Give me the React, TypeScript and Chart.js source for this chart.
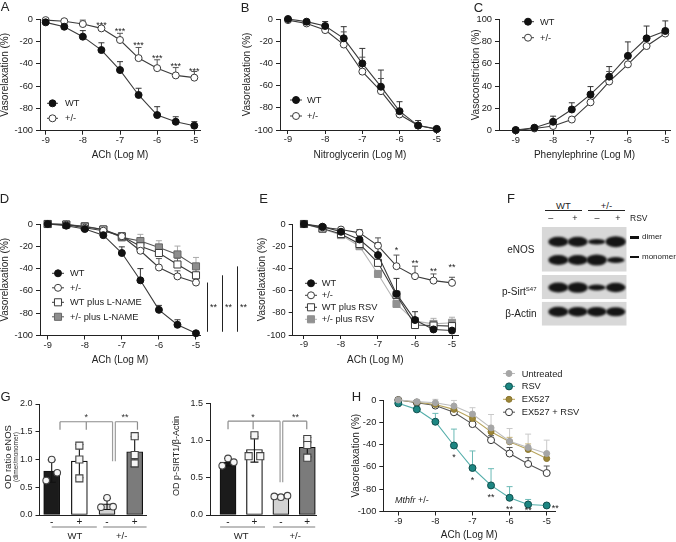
import React, { useEffect, useRef } from 'react';
import { Chart, registerables } from 'chart.js';

Chart.register(...registerables);

const FONT = '"Liberation Sans", Arial, Helvetica, sans-serif';
Chart.defaults.font.family = FONT;
Chart.defaults.color = '#222';

// ---------------- data ----------------
const LOG_DOSE = [-9, -8.5, -8, -7.5, -7, -6.5, -6, -5.5, -5];
const X_TICKS = [-9, -8, -7, -6, -5];
const RELAX_TICKS = [-100, -80, -60, -40, -20, 0];
const CONSTRICT_TICKS = [0, 20, 40, 60, 80, 100];

// A: ACh
const A_WT = [-3, -6.9, -15.8, -27.8, -45.7, -68, -86, -92, -95.5];
const A_WT_ERR = [1, 1.5, 5.4, 6.5, 7.5, 6, 7.5, 4.5, 3.6];
const A_HET = [-1, -2, -4.5, -8.4, -18.8, -35, -44, -50.5, -52.5];
const A_HET_ERR = [0.5, 1, 3.5, 0.5, 6, 9.5, 7.5, 7, 5.5];
const A_STAR_X = [-7.5, -7, -6.5, -6, -5.5, -5];
const A_STAR_Y = [-4, -9.3, -21.8, -33, -40.6, -44.8];
const A_STAR_TEXT = ['***', '***', '***', '***', '***', '***'];

// B: Nitroglycerin
const B_WT = [0, -2.4, -6.3, -17.4, -40, -61, -83, -96, -99];
const B_WT_ERR = [0.5, 1, 4, 10.5, 13.5, 15, 8.5, 4.5, 1];
const B_HET = [-1, -4, -10, -23, -47.4, -65, -86, -96, -99.3];
const B_HET_ERR = [0.5, 1, 2, 11.4, 13, 11.4, 4, 2, 1];

// C: Phenylephrine
const C_WT = [0.6, 2.7, 8, 19, 32.5, 48.4, 67, 82.7, 89.3];
const C_WT_ERR = [0.5, 1, 5, 6, 7, 9, 12.5, 11, 9];
const C_HET = [0.3, 2, 4.2, 10, 25.4, 44, 59.4, 75.8, 87];
const C_HET_ERR = [0.3, 0.5, 1, 2, 4, 9, 6, 5, 4];

// D: ACh +/- L-NAME
const D_WT = [0, -1.5, -4.5, -10, -26, -50.5, -77, -90.4, -98];
const D_WT_ERR = [0.5, 0.5, 1, 2, 5.5, 10.5, 4, 4.5, 1.5];
const D_HET = [0, -0.6, -3.3, -6, -11, -24, -39, -47, -52.5];
const D_HET_ERR = [0.3, 0.5, 1, 4, 3, 5, 8, 5, 3];
const D_WT_LN = [0, -0.5, -2.4, -5, -11, -20, -26, -36.3, -46];
const D_WT_LN_ERR = [0.3, 0.5, 1, 2, 3, 4, 4, 5.5, 6];
const D_HET_LN = [0, -0.5, -2, -5, -12, -15.3, -21, -27.3, -38];
const D_HET_LN_ERR = [0.3, 0.5, 1, 2, 4, 6, 6, 7.5, 8];

// E: ACh +/- RSV
const E_WT = [0, -2.4, -7, -14, -28, -63, -86.5, -95, -96];
const E_WT_ERR = [0.3, 1, 2, 4, 11, 14, 7.5, 3, 2];
const E_HET = [0, -3, -5, -8, -19.5, -38, -47, -51, -53];
const E_HET_ERR = [0.3, 1, 2, 3, 7, 10, 9, 6, 5];
const E_WT_RSV = [0, -4, -9, -18, -35, -64, -91, -91.5, -92];
const E_WT_RSV_ERR = [0.3, 1, 1.5, 2, 3, 4, 3, 2, 2];
const E_HET_RSV = [0, -4.5, -10, -20, -45, -72, -87.5, -90, -89];
const E_HET_RSV_ERR = [0.3, 1, 1, 2, 3, 3, 3, 5, 5];
const E_STAR_X = [-6.5, -6, -5.5, -5];
const E_STAR_Y = [-22, -33.3, -40.8, -37];
const E_STAR_TEXT = ['*', '**', '**', '**'];

// H: Mthfr +/- with RSV / EX527
const H_UNT = [0, -1.5, -2.4, -5.4, -12.6, -25, -37, -42.6, -48];
const H_UNT_ERR = [1, 1.5, 3, 5, 5.7, 12, 11.4, 12, 12];
const H_RSV = [-3, -8.4, -19.5, -40.8, -61, -76.6, -87.7, -93.7, -94.6];
const H_RSV_ERR = [1, 2, 7.5, 14.7, 15.3, 15, 10, 4.5, 1.5];
const H_EX = [0, -2, -4, -8.4, -16.5, -28.5, -37.5, -44.4, -52.5];
const H_EX_ERR = [1, 1.5, 2, 3, 4, 5, 4, 5, 5];
const H_EXRSV = [0, -2.4, -5, -11, -21.6, -36, -48, -57.4, -65.5];
const H_EXRSV_ERR = [1, 1, 2, 2, 3, 4, 5.4, 5.7, 6.3];
const H_STAR_X = [-7.5, -7, -6.5, -6, -5.5, -5];
const H_STAR_Y = [-49.3, -70.2, -85.2, -95.7, -96.9, -94.8];
const H_STAR_TEXT = ['*', '*', '**', '**', '**', '**'];

// G: bar charts
const G_CATS = ['-', '+', '-', '+'];
const G1_Y_TICKS = [0, 0.5, 1, 1.5, 2];
const G1_MEAN = [0.79, 0.97, 0.2, 1.14];
const G1_SD = [0.2, 0.3, 0.1, 0.27];
const G1_PTS = [[1.0, 0.62, 0.76], [1.25, 1.0, 0.66], [0.31, 0.14, 0.15], [1.42, 1.08, 0.93]];
const G2_Y_TICKS = [0, 0.5, 1, 1.5];
const G2_MEAN = [0.71, 0.88, 0.25, 0.91];
const G2_SD = [0.05, 0.17, 0.02, 0.13];
const G2_PTS = [[0.76, 0.66, 0.71], [1.07, 0.79, 0.79], [0.25, 0.24, 0.26], [1.02, 0.94, 0.77]];

// F: western blot band strengths (lanes WT-, WT+, het-, het+)
const BLOT_DIMER = [1.0, 1.0, 0.55, 1.1];
const BLOT_MONOMER = [1.0, 1.0, 1.1, 0.6];
const BLOT_PSIRT = [1.0, 1.05, 0.6, 0.95];
const BLOT_ACTIN = [1.0, 0.95, 0.95, 0.9];

// ---------------- types & styles ----------------
type Rect = { x: number; y: number; w: number; h: number };
type Plot = { l: number; t: number; r: number; b: number };
type Style = { marker: 'circle' | 'rect'; fill: string; stroke: string; line: string; err: string; radius?: number };
type Series = { label: string; data: number[]; err: number[]; style: Style };

const ST_FILLED: Style = { marker: 'circle', fill: '#111', stroke: '#111', line: '#3a3a3a', err: '#333' };
const ST_OPEN: Style = { marker: 'circle', fill: '#fff', stroke: '#3a3a3a', line: '#3a3a3a', err: '#555' };
const ST_OPEN_SQ: Style = { marker: 'rect', fill: '#fff', stroke: '#3a3a3a', line: '#3a3a3a', err: '#666' };
const ST_GRAY_SQ_D: Style = { marker: 'rect', fill: '#8e8e8e', stroke: '#666', line: '#555', err: '#aaa' };
const ST_GRAY_SQ_E: Style = { marker: 'rect', fill: '#919191', stroke: '#919191', line: '#b4b4b4', err: '#b0b0b0' };
const ST_UNT: Style = { marker: 'circle', fill: '#a6a6a6', stroke: '#a6a6a6', line: '#bdbdbd', err: '#c9c9c9', radius: 3 };
const ST_RSV: Style = { marker: 'circle', fill: '#1c8682', stroke: '#0f4f4d', line: '#54aeaa', err: '#6cbab6', radius: 3.5 };
const ST_EX: Style = { marker: 'circle', fill: '#9c8637', stroke: '#8a7630', line: '#b8a45c', err: '#c4b277', radius: 3 };
const ST_EXRSV: Style = { marker: 'circle', fill: '#fff', stroke: '#333', line: '#555', err: '#555', radius: 3.5 };

const TITLE_SIZE = 10;
const TITLE_LH = TITLE_SIZE * 1.2;

function markerRadius(st: Style) {
  return st.radius ?? (st.marker === 'rect' ? 5 : 3.5);
}

function drawMarker(ctx: CanvasRenderingContext2D, st: Style, x: number, y: number) {
  const r = markerRadius(st);
  ctx.beginPath();
  if (st.marker === 'rect') {
    const h = r * Math.SQRT1_2;
    ctx.rect(x - h, y - h, 2 * h, 2 * h);
  } else {
    ctx.arc(x, y, r, 0, Math.PI * 2);
  }
  ctx.fillStyle = st.fill;
  ctx.fill();
  ctx.lineWidth = 1;
  ctx.strokeStyle = st.stroke;
  ctx.stroke();
}

const errPlugin = {
  id: 'errbars',
  beforeDatasetsDraw(chart: any) {
    const ctx = chart.ctx;
    const ys = chart.scales.y;
    chart.data.datasets.forEach((ds: any, di: number) => {
      if (!ds.errs) return;
      const meta = chart.getDatasetMeta(di);
      ctx.save();
      ctx.strokeStyle = ds.errColor;
      ctx.lineWidth = 1;
      meta.data.forEach((el: any, i: number) => {
        const e = ds.errs[i];
        if (!e) return;
        const yt = ys.getPixelForValue(ds.data[i].y + e);
        ctx.beginPath();
        ctx.moveTo(el.x, el.y);
        ctx.lineTo(el.x, yt);
        ctx.moveTo(el.x - 3, yt);
        ctx.lineTo(el.x + 3, yt);
        ctx.stroke();
      });
      ctx.restore();
    });
  },
};

type LineSpec = {
  canvas: Rect;
  plot: Plot;
  xRange: [number, number];
  yRange: [number, number];
  yTicks: number[];
  xTitle: string;
  yTitle: string;
  xTitleY: number;
  yTitleX: number;
  series: Series[];
  legend?: { x: number; y: number; dy: number; len: number; textX: number };
  stars?: { xs: number[]; ys: number[]; texts: string[]; dx?: number[] };
  extra?: (chart: any, ctx: CanvasRenderingContext2D, c: Rect) => void;
};

function lineConfig(s: LineSpec): any {
  const c = s.canvas;
  const p = s.plot;
  const overlay = {
    id: 'overlay',
    afterDraw(chart: any) {
      const ctx: CanvasRenderingContext2D = chart.ctx;
      const xs = chart.scales.x;
      const ys = chart.scales.y;
      ctx.save();
      if (s.legend) {
        const lg = s.legend;
        s.series.forEach((se, i) => {
          const y = lg.y - c.y + i * lg.dy;
          const x = lg.x - c.x;
          ctx.strokeStyle = se.style.line;
          ctx.lineWidth = 1;
          ctx.beginPath();
          ctx.moveTo(x, y);
          ctx.lineTo(x + lg.len, y);
          ctx.stroke();
          drawMarker(ctx, se.style, x + lg.len / 2, y);
          ctx.fillStyle = '#222';
          ctx.font = `9.3px ${FONT}`;
          ctx.textAlign = 'left';
          ctx.textBaseline = 'middle';
          ctx.fillText(se.label, lg.textX - c.x, y + 0.5);
        });
      }
      if (s.stars) {
        const st = s.stars;
        ctx.fillStyle = '#222';
        ctx.font = `9px ${FONT}`;
        ctx.textAlign = 'center';
        ctx.textBaseline = 'alphabetic';
        st.xs.forEach((xv, i) => {
          const dx = st.dx ? st.dx[i] : 0;
          ctx.fillText(st.texts[i], xs.getPixelForValue(xv) + dx, ys.getPixelForValue(st.ys[i]) + 5);
        });
      }
      if (s.extra) s.extra(chart, ctx, c);
      ctx.restore();
    },
  };
  return {
    type: 'line',
    data: {
      datasets: s.series.map((se) => ({
        label: se.label,
        data: LOG_DOSE.map((x, i) => ({ x, y: se.data[i] })),
        borderColor: se.style.line,
        borderWidth: 1.1,
        backgroundColor: se.style.fill,
        pointStyle: se.style.marker,
        pointRadius: markerRadius(se.style),
        pointHoverRadius: markerRadius(se.style),
        pointBackgroundColor: se.style.fill,
        pointBorderColor: se.style.stroke,
        pointBorderWidth: 1,
        tension: 0,
        fill: false,
        clip: false,
        errs: se.err,
        errColor: se.style.err,
      })),
    },
    options: {
      responsive: false,
      animation: false,
      devicePixelRatio: 1,
      events: [],
      layout: { padding: { left: 0, top: p.t - c.y, right: c.x + c.w - p.r, bottom: 0 } },
      plugins: { legend: { display: false }, tooltip: { enabled: false } },
      scales: {
        x: {
          type: 'linear',
          min: s.xRange[0],
          max: s.xRange[1],
          afterBuildTicks: (ax: any) => {
            ax.ticks = X_TICKS.map((v) => ({ value: v }));
          },
          afterFit: (ax: any) => {
            ax.height = c.y + c.h - p.b;
          },
          ticks: { font: { size: 9.3 }, color: '#222', padding: 0, maxRotation: 0, autoSkip: false, callback: (v: any) => String(v) },
          grid: { drawOnChartArea: false, drawTicks: true, tickLength: 4, color: '#222', lineWidth: 1 },
          border: { display: true, color: '#222', width: 1 },
          title: {
            display: true,
            text: s.xTitle,
            color: '#222',
            font: { size: TITLE_SIZE },
            padding: { top: 0, bottom: c.y + c.h - s.xTitleY - TITLE_LH / 2 },
          },
        },
        y: {
          type: 'linear',
          min: s.yRange[0],
          max: s.yRange[1],
          afterBuildTicks: (ax: any) => {
            ax.ticks = s.yTicks.map((v) => ({ value: v }));
          },
          afterFit: (ax: any) => {
            ax.width = p.l - c.x;
          },
          ticks: { font: { size: 9.3 }, color: '#222', padding: 3, callback: (v: any) => String(v) },
          grid: { drawOnChartArea: false, drawTicks: true, tickLength: 4, color: '#222', lineWidth: 1 },
          border: { display: true, color: '#222', width: 1 },
          title: {
            display: true,
            text: s.yTitle,
            color: '#222',
            font: { size: TITLE_SIZE },
            padding: { top: s.yTitleX - c.x - TITLE_LH / 2, bottom: 0 },
          },
        },
      },
    },
    plugins: [errPlugin, overlay],
  };
}

// ---------------- bar charts ----------------
const BAR_FILLS = ['#1b1b1b', '#ffffff', '#d3d3d3', '#7b7b7b'];
const BAR_SHAPES = ['circle', 'rect', 'circle', 'rect'];

type BarSpec = {
  canvas: Rect;
  plot: Plot;
  xRange: [number, number];
  yMax: number;
  yTicks: number[];
  means: number[];
  sd: number[];
  pts: number[][];
  jitter: number[][];
  barW: number;
  bracket: { y: number; segs: number[][]; ticks: number[]; longs: number[]; longBottom: number; stars: [number, string][] };
  groups: { from: number; to: number; at: number; text: string }[];
  yTitles: { x: number; y: number; size: number; text: string }[];
};

function barConfig(g: BarSpec): any {
  const c = g.canvas;
  const p = g.plot;
  const pts: any[] = [];
  const styles: string[] = [];
  const radii: number[] = [];
  g.pts.forEach((arr, i) =>
    arr.forEach((v, j) => {
      pts.push({ x: i + g.jitter[i][j], y: v });
      styles.push(BAR_SHAPES[i]);
      radii.push(BAR_SHAPES[i] === 'rect' ? 5 : 3.3);
    })
  );
  const barErr = {
    id: 'barerr',
    afterDatasetDraw(chart: any, args: any) {
      if (args.index !== 0) return;
      const ctx: CanvasRenderingContext2D = chart.ctx;
      const ys = chart.scales.y;
      ctx.save();
      ctx.strokeStyle = '#111';
      ctx.lineWidth = 1.1;
      args.meta.data.forEach((el: any, i: number) => {
        const m = g.means[i];
        const e = g.sd[i];
        const y1 = ys.getPixelForValue(m + e);
        const y2 = ys.getPixelForValue(m - e);
        ctx.beginPath();
        ctx.moveTo(el.x, y2);
        ctx.lineTo(el.x, y1);
        ctx.moveTo(el.x - 4, y1);
        ctx.lineTo(el.x + 4, y1);
        ctx.moveTo(el.x - 4, y2);
        ctx.lineTo(el.x + 4, y2);
        ctx.stroke();
      });
      ctx.restore();
    },
  };
  const overlay = {
    id: 'goverlay',
    afterDraw(chart: any) {
      const ctx: CanvasRenderingContext2D = chart.ctx;
      const xs = chart.scales.x;
      const ys = chart.scales.y;
      const X = (v: number) => xs.getPixelForValue(v);
      const Y = (v: number) => ys.getPixelForValue(v);
      ctx.save();
      const br = g.bracket;
      const yb = Y(br.y);
      ctx.strokeStyle = '#8c8c8c';
      ctx.lineWidth = 1.2;
      ctx.beginPath();
      br.segs.forEach(([a, b]) => {
        ctx.moveTo(X(a), yb);
        ctx.lineTo(X(b), yb);
      });
      br.ticks.forEach((t) => {
        ctx.moveTo(X(t), yb);
        ctx.lineTo(X(t), yb + 8);
      });
      ctx.stroke();
      ctx.strokeStyle = '#9c9c9c';
      ctx.beginPath();
      br.longs.forEach((t) => {
        ctx.moveTo(X(t), yb);
        ctx.lineTo(X(t), Y(br.longBottom));
      });
      ctx.stroke();
      ctx.fillStyle = '#333';
      ctx.font = `9px ${FONT}`;
      ctx.textAlign = 'center';
      ctx.textBaseline = 'alphabetic';
      br.stars.forEach(([x, t]) => ctx.fillText(t, X(x), yb - 1.5));
      // group underlines & labels
      ctx.strokeStyle = '#a8a8a8';
      ctx.lineWidth = 1.5;
      g.groups.forEach((gr) => {
        ctx.beginPath();
        ctx.moveTo(X(gr.from), 527 - c.y);
        ctx.lineTo(X(gr.to), 527 - c.y);
        ctx.stroke();
        ctx.fillStyle = '#222';
        ctx.font = `9.5px ${FONT}`;
        ctx.textBaseline = 'middle';
        ctx.fillText(gr.text, X(gr.at), 536 - c.y);
      });
      // y titles
      g.yTitles.forEach((t) => {
        ctx.save();
        ctx.translate(t.x - c.x, t.y - c.y);
        ctx.rotate(-Math.PI / 2);
        ctx.fillStyle = '#222';
        ctx.font = `${t.size}px ${FONT}`;
        ctx.textAlign = 'center';
        ctx.textBaseline = 'middle';
        ctx.fillText(t.text, 0, 0);
        ctx.restore();
      });
      ctx.restore();
    },
  };
  return {
    type: 'bar',
    data: {
      datasets: [
        {
          type: 'bar',
          data: g.means.map((m, i) => ({ x: i, y: m })),
          backgroundColor: BAR_FILLS,
          borderColor: '#111',
          borderWidth: 1.2,
          borderSkipped: false,
          barThickness: g.barW,
          order: 2,
        },
        {
          type: 'scatter',
          data: pts,
          pointStyle: styles,
          pointRadius: radii,
          pointHoverRadius: radii,
          pointBackgroundColor: '#f6f6f6',
          pointBorderColor: '#444',
          pointBorderWidth: 1.1,
          clip: false,
          order: 1,
        },
      ],
    },
    options: {
      responsive: false,
      animation: false,
      devicePixelRatio: 1,
      events: [],
      layout: { padding: { left: 0, top: p.t - c.y, right: c.x + c.w - p.r, bottom: 0 } },
      plugins: { legend: { display: false }, tooltip: { enabled: false } },
      scales: {
        x: {
          type: 'linear',
          offset: false,
          min: g.xRange[0],
          max: g.xRange[1],
          afterBuildTicks: (ax: any) => {
            ax.ticks = G_CATS.map((_, i) => ({ value: i }));
          },
          afterFit: (ax: any) => {
            ax.height = c.y + c.h - p.b;
          },
          ticks: { font: { size: 10 }, color: '#222', padding: 1, maxRotation: 0, autoSkip: false, callback: (v: any) => G_CATS[v] ?? '' },
          grid: { drawOnChartArea: false, drawTicks: false, offset: false, color: '#222' },
          border: { display: true, color: '#222', width: 1 },
        },
        y: {
          type: 'linear',
          min: 0,
          max: g.yMax,
          afterBuildTicks: (ax: any) => {
            ax.ticks = g.yTicks.map((v) => ({ value: v }));
          },
          afterFit: (ax: any) => {
            ax.width = p.l - c.x;
          },
          ticks: { font: { size: 9 }, color: '#222', padding: 3, callback: (v: any) => Number(v).toFixed(1) },
          grid: { drawOnChartArea: false, drawTicks: true, tickLength: 4, color: '#222' },
          border: { display: true, color: '#222', width: 1 },
        },
      },
    },
    plugins: [barErr, overlay],
  };
}

// ---------------- specs ----------------
const SPEC_A: LineSpec = {
  canvas: { x: -2, y: 0, w: 217, h: 163 },
  plot: { l: 40, t: 19, r: 200, b: 130.7 },
  xRange: [-9.153, -4.847],
  yRange: [-100, 0],
  yTicks: RELAX_TICKS,
  xTitle: 'ACh (Log M)',
  yTitle: 'Vasorelaxation (%)',
  xTitleY: 155,
  yTitleX: 5.5,
  series: [
    { label: 'WT', data: A_WT, err: A_WT_ERR, style: ST_FILLED },
    { label: '+/-', data: A_HET, err: A_HET_ERR, style: ST_OPEN },
  ],
  legend: { x: 47, y: 103.3, dy: 15, len: 11, textX: 65 },
  stars: { xs: A_STAR_X, ys: A_STAR_Y, texts: A_STAR_TEXT },
};

const SPEC_B: LineSpec = {
  canvas: { x: 241, y: 0, w: 211, h: 163 },
  plot: { l: 280, t: 19, r: 440, b: 130 },
  xRange: [-9.215, -4.911],
  yRange: [-100, 0],
  yTicks: RELAX_TICKS,
  xTitle: 'Nitroglycerin (Log M)',
  yTitle: 'Vasorelaxation (%)',
  xTitleY: 155,
  yTitleX: 247.5,
  series: [
    { label: 'WT', data: B_WT, err: B_WT_ERR, style: ST_FILLED },
    { label: '+/-', data: B_HET, err: B_HET_ERR, style: ST_OPEN },
  ],
  legend: { x: 290, y: 100, dy: 16, len: 12, textX: 307 },
};

const SPEC_C: LineSpec = {
  canvas: { x: 470, y: 0, w: 206, h: 163 },
  plot: { l: 499, t: 19, r: 670, b: 130.7 },
  xRange: [-9.447, -4.874],
  yRange: [0, 100],
  yTicks: CONSTRICT_TICKS,
  xTitle: 'Phenylephrine (Log M)',
  yTitle: 'Vasoconstriction (%)',
  xTitleY: 155,
  yTitleX: 476.7,
  series: [
    { label: 'WT', data: C_WT, err: C_WT_ERR, style: ST_FILLED },
    { label: '+/-', data: C_HET, err: C_HET_ERR, style: ST_OPEN },
  ],
  legend: { x: 522, y: 21.7, dy: 16, len: 12, textX: 540 },
};

const SPEC_D: LineSpec = {
  canvas: { x: -2, y: 180, w: 257, h: 187 },
  plot: { l: 40, t: 224, r: 200, b: 335.5 },
  xRange: [-9.208, -4.892],
  yRange: [-100, 0],
  yTicks: RELAX_TICKS,
  xTitle: 'ACh (Log M)',
  yTitle: 'Vasorelaxation (%)',
  xTitleY: 360,
  yTitleX: 5,
  series: [
    { label: 'WT', data: D_WT, err: D_WT_ERR, style: ST_FILLED },
    { label: '+/-', data: D_HET, err: D_HET_ERR, style: ST_OPEN },
    { label: 'WT plus L-NAME', data: D_WT_LN, err: D_WT_LN_ERR, style: ST_OPEN_SQ },
    { label: '+/- plus L-NAME', data: D_HET_LN, err: D_HET_LN_ERR, style: ST_GRAY_SQ_D },
  ],
  legend: { x: 52, y: 273.3, dy: 14.5, len: 12, textX: 70 },
  extra: (chart, ctx) => {
    const xs = chart.scales.x;
    const ys = chart.scales.y;
    const last = LOG_DOSE.length - 1;
    const x0 = xs.getPixelForValue(LOG_DOSE[last]);
    const yB = ys.getPixelForValue(D_WT[last]) - 1.5;
    [D_HET, D_WT_LN, D_HET_LN].forEach((arr, i) => {
      const x = Math.round(x0 + 10.7 + 15 * i) + 0.5;
      ctx.strokeStyle = '#222';
      ctx.lineWidth = 1;
      ctx.beginPath();
      ctx.moveTo(x, yB);
      ctx.lineTo(x, ys.getPixelForValue(arr[last]));
      ctx.stroke();
      ctx.fillStyle = '#222';
      ctx.font = `9px ${FONT}`;
      ctx.textAlign = 'left';
      ctx.textBaseline = 'alphabetic';
      ctx.fillText('**', x + 2.5, ys.getPixelForValue(-73) + 5);
    });
  },
};

const SPEC_E: LineSpec = {
  canvas: { x: 255, y: 180, w: 215, h: 187 },
  plot: { l: 292.7, t: 224, r: 458, b: 335 },
  xRange: [-9.305, -4.838],
  yRange: [-100, 0],
  yTicks: RELAX_TICKS,
  xTitle: 'ACh (Log M)',
  yTitle: 'Vasorelaxation (%)',
  xTitleY: 360,
  yTitleX: 262,
  series: [
    { label: 'WT', data: E_WT, err: E_WT_ERR, style: ST_FILLED },
    { label: '+/-', data: E_HET, err: E_HET_ERR, style: ST_OPEN },
    { label: 'WT plus RSV', data: E_WT_RSV, err: E_WT_RSV_ERR, style: ST_OPEN_SQ },
    { label: '+/- plus RSV', data: E_HET_RSV, err: E_HET_RSV_ERR, style: ST_GRAY_SQ_E },
  ],
  legend: { x: 305, y: 283.3, dy: 12, len: 12, textX: 321.7 },
  stars: { xs: E_STAR_X, ys: E_STAR_Y, texts: E_STAR_TEXT },
};

const SPEC_H: LineSpec = {
  canvas: { x: 350, y: 362, w: 326, h: 180 },
  plot: { l: 383.3, t: 400, r: 555, b: 511.5 },
  xRange: [-9.404, -4.776],
  yRange: [-100, 0],
  yTicks: RELAX_TICKS,
  xTitle: 'ACh (Log M)',
  yTitle: 'Vasorelaxation (%)',
  xTitleY: 535,
  yTitleX: 356.5,
  series: [
    { label: 'Untreated', data: H_UNT, err: H_UNT_ERR, style: ST_UNT },
    { label: 'RSV', data: H_RSV, err: H_RSV_ERR, style: ST_RSV },
    { label: 'EX527', data: H_EX, err: H_EX_ERR, style: ST_EX },
    { label: 'EX527 + RSV', data: H_EXRSV, err: H_EXRSV_ERR, style: ST_EXRSV },
  ],
  legend: { x: 503, y: 373.5, dy: 12.9, len: 12, textX: 521.7 },
  stars: { xs: H_STAR_X, ys: H_STAR_Y, texts: H_STAR_TEXT, dx: [0, 0, 0, 0, 0, 8.5] },
  extra: (chart, ctx, c) => {
    ctx.fillStyle = '#222';
    ctx.textBaseline = 'middle';
    ctx.textAlign = 'left';
    ctx.font = `italic 9px ${FONT}`;
    const x = 395 - c.x;
    const y = 500.7 - c.y;
    ctx.fillText('Mthfr', x, y);
    const w = ctx.measureText('Mthfr').width;
    ctx.font = `9px ${FONT}`;
    ctx.fillText(' +/-', x + w, y);
  },
};

const SPEC_G1: BarSpec = {
  canvas: { x: -2, y: 385, w: 167, h: 157 },
  plot: { l: 39.5, t: 404, r: 146.7, b: 515 },
  xRange: [-0.441, 3.434],
  yMax: 2,
  yTicks: G1_Y_TICKS,
  means: G1_MEAN,
  sd: G1_SD,
  pts: G1_PTS,
  jitter: [[0, -0.2, 0.2], [0, 0, 0], [0, -0.22, 0.22], [0, 0, 0]],
  barW: 16,
  bracket: { y: 1.68, segs: [[0.3, 2.2], [2.3, 3.1]], ticks: [0.3, 1.25, 3.1], longs: [2.2, 2.3], longBottom: 0.97, stars: [[1.25, '*'], [2.65, '**']] },
  groups: [
    { from: 0, to: 1.63, at: 0.84, text: 'WT' },
    { from: 1.86, to: 3.43, at: 2.53, text: '+/-' },
  ],
  yTitles: [
    { x: 8.3, y: 457, size: 9.5, text: 'OD ratio eNOS' },
    { x: 15.8, y: 457, size: 6.5, text: '(dimer/monomer)' },
  ],
};

const SPEC_G2: BarSpec = {
  canvas: { x: 168, y: 385, w: 156, h: 157 },
  plot: { l: 210, t: 403.3, r: 316.7, b: 515 },
  xRange: [-0.682, 3.356],
  yMax: 1.5,
  yTicks: G2_Y_TICKS,
  means: G2_MEAN,
  sd: G2_SD,
  pts: G2_PTS,
  jitter: [[0, -0.22, 0.22], [0, -0.22, 0.22], [-0.25, 0, 0.25], [0, 0, 0]],
  barW: 16,
  bracket: { y: 1.26, segs: [[0, 1.97], [2.07, 2.98]], ticks: [0, 0.95, 2.98], longs: [1.97, 2.07], longBottom: 0.44, stars: [[0.95, '*'], [2.55, '**']] },
  groups: [
    { from: -0.3, to: 1.4, at: 0.5, text: 'WT' },
    { from: 1.7, to: 3.3, at: 2.54, text: '+/-' },
  ],
  yTitles: [{ x: 176.7, y: 456, size: 9, text: 'OD p-SIRT1/\u03B2-Actin' }],
};

// ---------------- components ----------------
function ChartCanvas({ box, make }: { box: Rect; make: () => any }) {
  const ref = useRef<HTMLCanvasElement | null>(null);
  useEffect(() => {
    if (!ref.current) return;
    const chart = new Chart(ref.current, make());
    return () => chart.destroy();
  }, []);
  return (
    <div style={{ position: 'absolute', left: box.x, top: box.y, width: box.w, height: box.h }}>
      <canvas ref={ref} width={box.w} height={box.h} style={{ width: box.w, height: box.h, display: 'block' }} />
    </div>
  );
}

function Blot() {
  const ref = useRef<HTMLCanvasElement | null>(null);
  const box = { x: 538, y: 222, w: 94, h: 108 };
  useEffect(() => {
    const cv = ref.current;
    if (!cv) return;
    const ctx = cv.getContext('2d');
    if (!ctx) return;
    ctx.clearRect(0, 0, box.w, box.h);
    const lanes = [20.3, 39.7, 58.7, 77.7];
    const panels = [
      { y0: 5, y1: 49.7, rows: [{ y: 19.7, bands: BLOT_DIMER }, { y: 38, bands: BLOT_MONOMER }] },
      { y0: 53, y1: 77, rows: [{ y: 65.5, bands: BLOT_PSIRT }] },
      { y0: 79.7, y1: 103.7, rows: [{ y: 89.7, bands: BLOT_ACTIN }] },
    ];
    panels.forEach((pn) => {
      ctx.save();
      ctx.beginPath();
      ctx.rect(3.7, pn.y0, 85, pn.y1 - pn.y0);
      ctx.clip();
      ctx.fillStyle = '#d8d8d8';
      ctx.fillRect(3.7, pn.y0, 85, pn.y1 - pn.y0);
      ctx.filter = 'blur(1.3px)';
      pn.rows.forEach((r) =>
        r.bands.forEach((s, i) => {
          ctx.fillStyle = '#151515';
          ctx.beginPath();
          ctx.ellipse(lanes[i], r.y, 10 * (0.72 + 0.28 * s), 5 * s, 0, 0, Math.PI * 2);
          ctx.fill();
        })
      );
      ctx.restore();
    });
  }, []);
  return (
    <canvas
      ref={ref}
      width={box.w}
      height={box.h}
      style={{ position: 'absolute', left: box.x, top: box.y, width: box.w, height: box.h }}
    />
  );
}

function Txt({ x, y, size, align = 'left', children, style }: any) {
  const tx = align === 'center' ? '-50%' : align === 'right' ? '-100%' : '0';
  return (
    <div
      style={{
        position: 'absolute',
        left: x,
        top: y,
        transform: `translate(${tx}, -50%)`,
        fontSize: size,
        lineHeight: 1,
        fontFamily: FONT,
        color: '#222',
        whiteSpace: 'nowrap',
        ...style,
      }}
    >
      {children}
    </div>
  );
}

function Bar({ x, y, w, h, color = '#222' }: any) {
  return <div style={{ position: 'absolute', left: x, top: y, width: w, height: h, background: color }} />;
}

export default function App() {
  const letters: [string, number, number][] = [
    ['A', 5, 6],
    ['B', 245, 7],
    ['C', 478.5, 6.7],
    ['D', 4.5, 197.5],
    ['E', 263.5, 197.5],
    ['F', 511, 197.5],
    ['G', 5.5, 396],
    ['H', 356.5, 395.5],
  ];
  return (
    <div style={{ position: 'absolute', left: 0, top: 0, width: 676, height: 542, background: '#fff', overflow: 'hidden', fontFamily: FONT }}>
      <ChartCanvas box={SPEC_A.canvas} make={() => lineConfig(SPEC_A)} />
      <ChartCanvas box={SPEC_B.canvas} make={() => lineConfig(SPEC_B)} />
      <ChartCanvas box={SPEC_C.canvas} make={() => lineConfig(SPEC_C)} />
      <ChartCanvas box={SPEC_D.canvas} make={() => lineConfig(SPEC_D)} />
      <ChartCanvas box={SPEC_E.canvas} make={() => lineConfig(SPEC_E)} />
      <ChartCanvas box={SPEC_H.canvas} make={() => lineConfig(SPEC_H)} />
      <ChartCanvas box={SPEC_G1.canvas} make={() => barConfig(SPEC_G1)} />
      <ChartCanvas box={SPEC_G2.canvas} make={() => barConfig(SPEC_G2)} />
      <Blot />

      {/* F labels */}
      <Txt x={563.5} y={205.5} size={9.5} align="center">WT</Txt>
      <Bar x={545} y={209.5} w={37} h={1} />
      <Txt x={606.5} y={205.5} size={9.5} align="center">+/-</Txt>
      <Bar x={588} y={209.5} w={37} h={1} />
      <Txt x={550.8} y={217.5} size={9} align="center">{'\u2013'}</Txt>
      <Txt x={575} y={217.5} size={9} align="center">+</Txt>
      <Txt x={597} y={217.5} size={9} align="center">{'\u2013'}</Txt>
      <Txt x={618} y={217.5} size={9} align="center">+</Txt>
      <Txt x={630} y={217.5} size={8.5}>RSV</Txt>
      <Txt x={534.5} y={250} size={10} align="right">eNOS</Txt>
      <Txt x={536.5} y={291.5} size={10} align="right">
        p-Sirt<sup style={{ fontSize: 6, verticalAlign: 'super', lineHeight: 0 }}>S47</sup>
      </Txt>
      <Txt x={536.5} y={314} size={10} align="right">{'\u03B2-Actin'}</Txt>
      <Bar x={630} y={236} w={9} h={2.5} color="#111" />
      <Txt x={642} y={237} size={8}>dimer</Txt>
      <Bar x={630} y={255.5} w={9} h={2.5} color="#111" />
      <Txt x={642} y={256.7} size={8}>monomer</Txt>

      {letters.map(([t, x, y]) => (
        <Txt key={t} x={x} y={y} size={13} align="center">
          {t}
        </Txt>
      ))}
    </div>
  );
}
